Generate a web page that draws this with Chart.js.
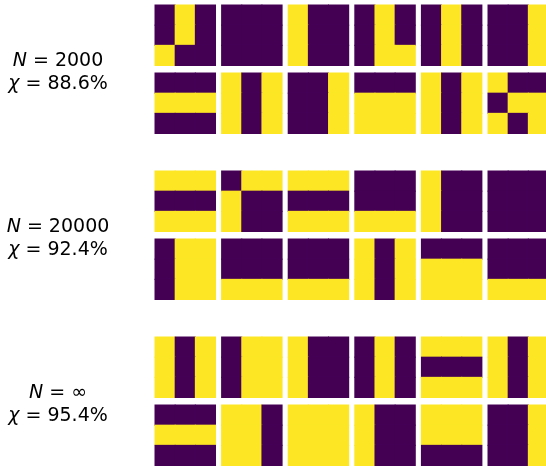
<!DOCTYPE html>
<html>
<head>
<meta charset="utf-8">
<script src="https://cdn.jsdelivr.net/npm/chart.js@4/dist/chart.umd.min.js"></script>
<style>
  body { margin: 0; background: #fff; }
  #wrap { position: relative; width: 546px; height: 466px; }
  canvas { position: absolute; left: 0; top: 0; }
  .lbl {
    position: absolute; left: 0; width: 116px; text-align: center;
    font-family: "DejaVu Sans", sans-serif; font-size: 19px; line-height: 23px; color: #000;
  }
</style>
</head>
<body>
<div id="wrap">
  <canvas id="grid" width="546" height="466"></canvas>
</div>
<script>
// each image is a 3x3 pattern, row by row, 1 = yellow, 0 = purple
const n2000 = [
  '010010100', '000000000', '100100100', '010010011', '010010010', '001001001',
  '000111000', '101101101', '001001001', '000111111', '101101101', '100011101'
];
const n20000 = [
  '111000111', '011100100', '111000111', '000000111', '100100100', '000000000',
  '011011011', '000000111', '000000111', '101101101', '000111111', '000000111'
];
const nInf = [
  '101101101', '011011011', '100100100', '010010010', '111000111', '101101101',
  '000111000', '110110110', '111111111', '100100100', '111111000', '001001001'
];
const sampleSizes = ['2000', '20000', '\u221e'];
const accuracies = ['88.6', '92.4', '95.4'];

const PURPLE = '#440154';
const YELLOW = '#fde725';

// layout in pixels, converted to cell units
const CELL = 60.5 / 3;
const COL_PITCH = 66.6 / CELL;
const ROW_PITCH = 68 / CELL;
const GROUP_PITCH = 166 / CELL;
const LEFT = 155 / CELL;
const TOP = 5 / CELL;

const groups = [n2000, n20000, nInf];
const points = [];
const colors = [];
groups.forEach((imgs, g) => {
  imgs.forEach((pat, k) => {
    const row = Math.floor(k / 6), col = k % 6;
    for (let i = 0; i < 9; i++) {
      const r = Math.floor(i / 3), c = i % 3;
      const y0 = g * GROUP_PITCH + row * ROW_PITCH + r;
      points.push({ x: col * COL_PITCH + c + 0.5, y: [y0, y0 + 1] });
      colors.push(pat[i] === '1' ? YELLOW : PURPLE);
    }
  });
});

new Chart(document.getElementById('grid'), {
  type: 'bar',
  data: {
    datasets: [{
      data: points,
      backgroundColor: colors,
      borderWidth: 0,
      inflateAmount: 0.5,   // hide seams between neighbouring cells
      barPercentage: 1,
      categoryPercentage: 1
    }]
  },
  options: {
    responsive: false,
    animation: false,
    layout: { padding: 0 },
    plugins: { legend: { display: false }, tooltip: { enabled: false } },
    scales: {
      x: {
        type: 'linear', display: false, offset: false,
        min: -LEFT, max: -LEFT + 546 / CELL,
        ticks: { stepSize: 10, includeBounds: false }
      },
      y: {
        type: 'linear', display: false, reverse: true, offset: false,
        min: -TOP, max: -TOP + 466 / CELL,
        ticks: { stepSize: 10, includeBounds: false }
      }
    }
  }
});

// side labels
const wrap = document.getElementById('wrap');
sampleSizes.forEach((n, g) => {
  const d = document.createElement('div');
  d.className = 'lbl';
  d.style.top = (48 + 166 * g) + 'px';
  d.innerHTML = '<i>N</i> = ' + n + '<br><i>\u03c7</i> = ' + accuracies[g] + '%';
  wrap.appendChild(d);
});
</script>
</body>
</html>
